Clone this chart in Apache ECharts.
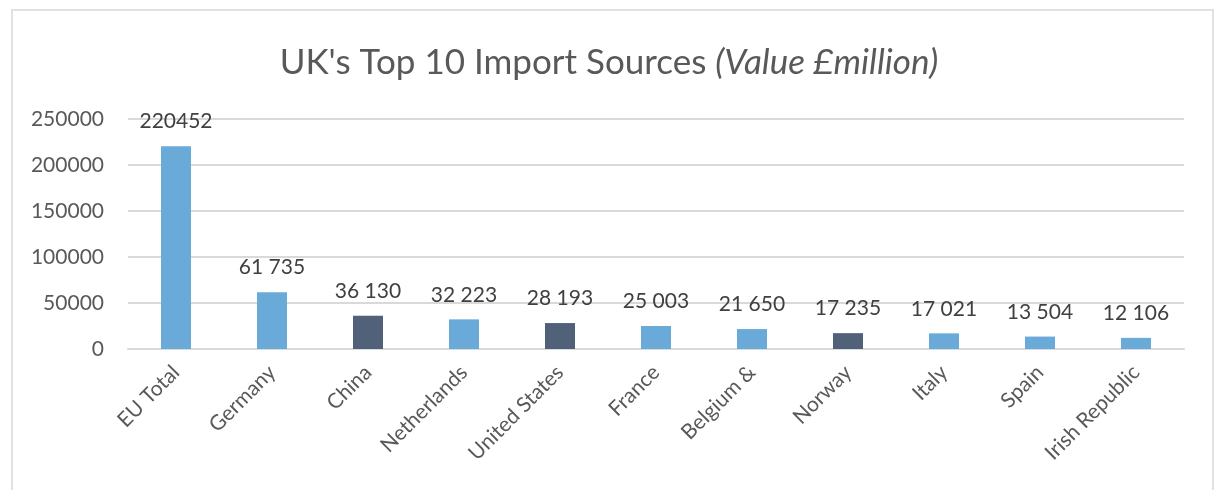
<!DOCTYPE html>
<html>
<head>
<meta charset="utf-8">
<script src="https://cdn.jsdelivr.net/npm/echarts@6/dist/echarts.min.js"></script>
<style>
  html, body { margin: 0; padding: 0; background: #ffffff; }
  #frame {
    position: absolute; left: 11px; top: 9px; width: 1203px; height: 490px;
    border: 2px solid #e1e1e1; border-bottom: none; box-sizing: border-box;
  }
  #chart { position: absolute; left: 0; top: 0; width: 1218px; height: 490px; }
</style>
</head>
<body>
<div id="frame"></div>
<div id="chart"></div>
<script>
// UK's top import sources, value in £ million
const categories = ['EU Total', 'Germany', 'China', 'Netherlands', 'United States', 'France',
  'Belgium &', 'Norway', 'Italy', 'Spain', 'Irish Republic'];
const values = [220452, 61735, 36130, 32223, 28193, 25003, 21650, 17235, 17021, 13504, 12106];
// EU members in light blue, non-EU partners in dark slate
const isEU = [true, true, false, true, false, true, true, false, true, true, true];
const yTicks = [0, 50000, 100000, 150000, 200000, 250000];

const LIGHT = '#6aaad9';
const DARK = '#506179';
const TEXT = '#595959';
const FONT = 'Lato';

function groupDigits(v, idx) {
  // the aggregate figure is printed without a separator
  if (idx === 0) return String(v);
  return String(v).replace(/\B(?=(\d{3})+(?!\d))/g, ' ');
}

const chart = echarts.init(document.getElementById('chart'), null, { renderer: 'canvas' });
chart.setOption({
  animation: false,
  backgroundColor: 'transparent',
  title: {
    text: "{n|UK's Top 10 Import Sources }{i|(Value £million)}",
    left: 'center',
    top: 40,
    textStyle: {
      rich: {
        n: { fontFamily: FONT, fontSize: 35, color: TEXT, fontWeight: 'normal' },
        i: { fontFamily: FONT, fontSize: 35, color: TEXT, fontStyle: 'italic', fontWeight: 'normal' }
      }
    }
  },
  grid: { left: 128, right: 34, top: 119, bottom: 141, containLabel: false },
  xAxis: {
    type: 'category',
    data: categories,
    axisLine: { lineStyle: { color: '#d9d9d9', width: 2 } },
    axisTick: { show: false },
    axisLabel: {
      rotate: 45, margin: 20, color: TEXT, fontFamily: FONT, fontSize: 21, interval: 0
    }
  },
  yAxis: {
    type: 'value',
    min: yTicks[0],
    max: yTicks[yTicks.length - 1],
    interval: yTicks[1] - yTicks[0],
    axisLine: { show: false },
    axisTick: { show: false },
    splitLine: { lineStyle: { color: '#d9d9d9', width: 2 } },
    axisLabel: {
      margin: 24, color: TEXT, fontFamily: FONT, fontSize: 21,
      formatter: v => String(v)
    }
  },
  series: [{
    type: 'bar',
    barWidth: 30,
    data: values.map((v, i) => ({ value: v, itemStyle: { color: isEU[i] ? LIGHT : DARK } })),
    label: {
      show: true,
      position: 'top',
      distance: 14,
      color: '#404040',
      fontFamily: FONT,
      fontSize: 21,
      formatter: p => groupDigits(p.value, p.dataIndex)
    }
  }]
});
</script>
</body>
</html>
